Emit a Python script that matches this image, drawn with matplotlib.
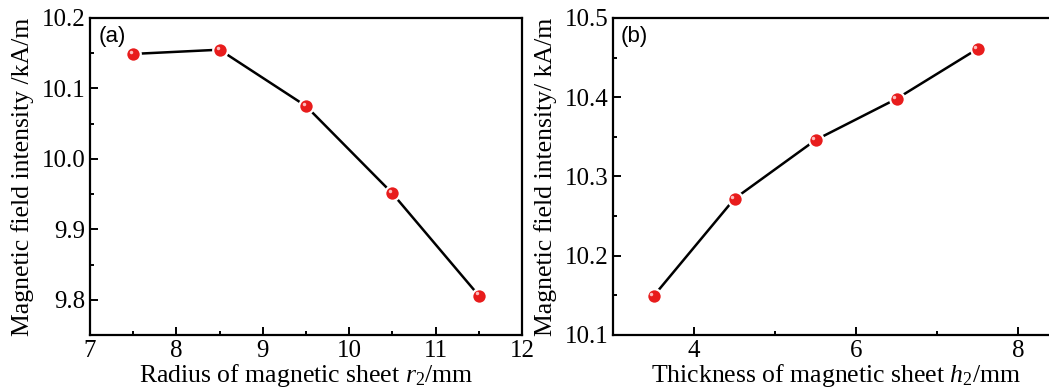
import matplotlib
matplotlib.use("Agg")
import matplotlib.pyplot as plt
from matplotlib.ticker import MultipleLocator
from matplotlib import transforms

# Veriler
r2_mm = [7.5, 8.5, 9.5, 10.5, 11.5]
h_r2 = [10.149, 10.155, 10.075, 9.951, 9.806]

h2_mm = [3.5, 4.5, 5.5, 6.5, 7.5]
h_h2 = [10.149, 10.272, 10.346, 10.398, 10.461]

plt.rcParams["font.family"] = "Liberation Serif"
plt.rcParams["mathtext.fontset"] = "custom"
plt.rcParams["mathtext.rm"] = "Liberation Serif"
plt.rcParams["mathtext.it"] = "Liberation Serif:italic"

fig = plt.figure(figsize=(10.49, 3.88), dpi=100)
ax1 = fig.add_axes([90 / 1049, 1 - 335 / 388, 432 / 1049, 317 / 388])
ax2 = fig.add_axes([613 / 1049, 1 - 335 / 388, 445.5 / 1049, 317 / 388])


def cizim(ax, x, y):
    ax.plot(x, y, color="black", lw=1.8, zorder=2)
    ax.plot(x, y, ls="none", marker="o", ms=10.5, mfc="#e81c1c",
            mec="white", mew=1.6, zorder=3)
    # parlak nokta
    tr = transforms.offset_copy(ax.transData, fig=fig, x=-1.5, y=1.5, units="points")
    ax.plot(x, y, ls="none", marker="o", ms=2.5, mfc="#ffd0d0", mec="none",
            alpha=0.9, transform=tr, zorder=4)
    for s in ax.spines.values():
        s.set_linewidth(1.6)
    ax.tick_params(which="both", direction="in", top=False, right=False,
                   width=1.4, labelsize=18)
    ax.tick_params(which="major", length=6)
    ax.tick_params(which="minor", length=3)


cizim(ax1, r2_mm, h_r2)
ax1.set_xlim(7, 12)
ax1.set_ylim(9.75, 10.2)
ax1.xaxis.set_major_locator(MultipleLocator(1))
ax1.xaxis.set_minor_locator(MultipleLocator(0.5))
ax1.yaxis.set_major_locator(MultipleLocator(0.1))
ax1.yaxis.set_minor_locator(MultipleLocator(0.05))
ax1.set_xlabel("Radius of magnetic sheet $r_2$/mm", fontsize=18.5, labelpad=0)
ax1.set_ylabel("Magnetic field intensity /kA/m", fontsize=18.5, labelpad=5)
ax1.text(0.02, 0.975, "(a)", transform=ax1.transAxes, fontsize=16,
         family="Liberation Sans", va="top", ha="left")

cizim(ax2, h2_mm, h_h2)
ax2.set_xlim(3, 8.5)
ax2.set_ylim(10.1, 10.5)
ax2.xaxis.set_major_locator(MultipleLocator(2))
ax2.xaxis.set_minor_locator(MultipleLocator(1))
ax2.yaxis.set_major_locator(MultipleLocator(0.1))
ax2.yaxis.set_minor_locator(MultipleLocator(0.05))
ax2.set_xlabel("Thickness of magnetic sheet $h_2$/mm", fontsize=18.5, labelpad=0)
ax2.set_ylabel("Magnetic field intensity/ kA/m", fontsize=18.5, labelpad=5)
ax2.text(0.018, 0.975, "(b)", transform=ax2.transAxes, fontsize=16,
         family="Liberation Sans", va="top", ha="left")

plt.savefig("out.png", dpi=100)
plt.close()
